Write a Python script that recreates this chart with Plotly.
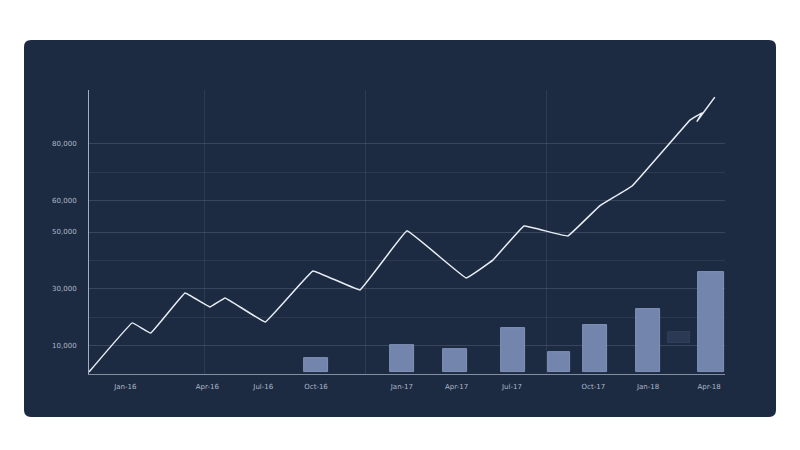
import plotly.graph_objects as go

# ---- data ----
line_x = [0, 6.8, 9.7, 15.1, 19.0, 21.4, 27.7, 35.2, 42.6, 50.0, 59.3, 63.5, 68.4, 75.3, 80.3, 85.4, 94.5, 96.4, 95.6, 98.4]
line_y = [0.7, 18.0, 14.4, 28.5, 23.6, 26.8, 18.3, 36.3, 29.6, 50.4, 33.8, 40.1, 52.1, 48.6, 59.2, 66.2, 89.4, 92.0, 89.0, 97.5]

bar_x = [35.7, 49.2, 57.5, 66.7, 73.9, 79.6, 87.9, 92.8, 97.8]
bar_y = [4.9, 9.5, 8.1, 15.5, 7.0, 16.6, 22.2, 3.9, 35.2]
bar_base = [0.7, 0.7, 0.7, 0.7, 0.7, 0.7, 0.7, 10.9, 0.7]

y_tick_vals = [10, 30, 50, 61, 81]
y_tick_text = ["10,000", "30,000", "50,000", "60,000", "80,000"]

x_tick_vals = [5.7, 18.6, 27.4, 35.7, 49.2, 57.8, 66.5, 79.3, 87.9, 97.5]
x_tick_text = ["Jan-16", "Apr-16", "Jul-16", "Oct-16", "Jan-17", "Apr-17", "Jul-17", "Oct-17", "Jan-18", "Apr-18"]

bar_colors = ["#7385ad"] * 7 + ["#2b3955"] + ["#7385ad"]
bar_lines = ["#8e9fc4"] * 7 + ["#33415e"] + ["#8e9fc4"]

fig = go.Figure()

fig.add_trace(go.Bar(
    x=bar_x, y=bar_y, base=bar_base,
    width=[3.8, 3.8, 3.8, 3.8, 3.5, 3.8, 3.8, 3.5, 4.0],
    marker=dict(color=bar_colors, line=dict(color=bar_lines, width=0.8)),
    showlegend=False, hoverinfo="skip",
))

fig.add_trace(go.Scatter(
    x=line_x, y=line_y, mode="lines",
    line=dict(color="#e9eef6", width=1.5, shape="spline", smoothing=0.15),
    showlegend=False, hoverinfo="skip",
))

# rounded dark panel behind the plot (paper coordinates relative to plot area)
px0, px1 = (24 - 89) / 636, (776 - 89) / 636
py0, py1 = (374 - 417) / 284, (374 - 40) / 284
rx, ry = 7 / 636, 7 / 284
path = (f"M {px0+rx},{py0} L {px1-rx},{py0} Q {px1},{py0} {px1},{py0+ry} "
        f"L {px1},{py1-ry} Q {px1},{py1} {px1-rx},{py1} "
        f"L {px0+rx},{py1} Q {px0},{py1} {px0},{py1-ry} "
        f"L {px0},{py0+ry} Q {px0},{py0} {px0+rx},{py0} Z")

# page has an 8px body margin, so the figure is 792x442 and shifted margins
fig.update_layout(
    width=792, height=442,
    margin=dict(l=81, r=75, t=82, b=76),
    paper_bgcolor="#ffffff",
    plot_bgcolor="rgba(0,0,0,0)",
    bargap=0,
    shapes=[dict(type="path", path=path, xref="paper", yref="paper",
                 fillcolor="#1c2a42", line=dict(width=0), layer="below")],
    xaxis=dict(range=[0, 100], tickvals=x_tick_vals, ticktext=x_tick_text,
               showgrid=False, zeroline=False, showline=True,
               linecolor="rgba(200,210,225,0.6)", linewidth=1,
               tickfont=dict(family="DejaVu Sans", size=7, color="#aeb8c8"),
               ticks="", ticklabelstandoff=6),
    xaxis2=dict(range=[0, 100], overlaying="x", tickvals=[18.2, 43.4, 72.0],
                showticklabels=False, showgrid=True,
                gridcolor="rgba(255,255,255,0.08)", zeroline=False),
    yaxis=dict(range=[0, 100], tickvals=y_tick_vals, ticktext=y_tick_text,
               showgrid=True, gridcolor="rgba(255,255,255,0.13)", gridwidth=1,
               zeroline=False, showline=True,
               linecolor="rgba(210,218,232,0.75)", linewidth=1,
               tickfont=dict(family="DejaVu Sans", size=7, color="#aeb8c8"),
               ticks="", ticklabelstandoff=10),
    yaxis2=dict(range=[0, 100], overlaying="y", tickvals=[20, 40, 71],
                showticklabels=False, showgrid=True,
                gridcolor="rgba(255,255,255,0.07)", zeroline=False),
)

# invisible helper trace to activate secondary grid axes
fig.add_trace(go.Scatter(x=[None], y=[None], xaxis="x2", yaxis="y2",
                         showlegend=False, hoverinfo="skip"))

fig.write_html("out.html")
